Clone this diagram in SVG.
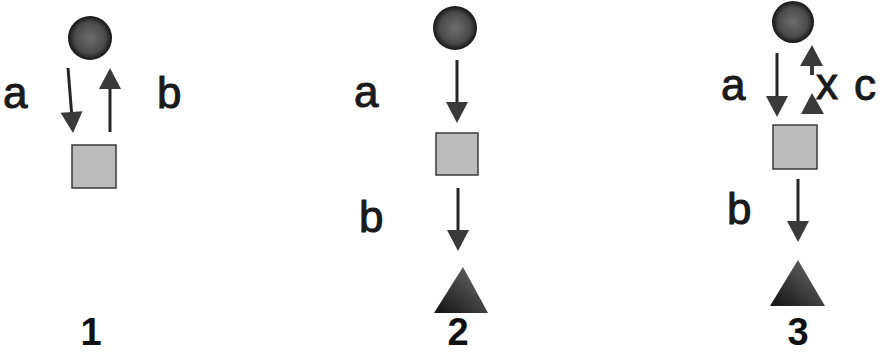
<svg xmlns="http://www.w3.org/2000/svg" width="886" height="354" viewBox="0 0 886 354">
<style>
.lbl{font-family:"Liberation Sans","DejaVu Sans",sans-serif;font-size:44px;fill:#1a1a1a;stroke:#1a1a1a;stroke-width:1}
.num{font-family:"Liberation Sans","DejaVu Sans",sans-serif;font-size:38px;font-weight:bold;fill:#111;text-anchor:middle}
.sq{fill:#bcbcbc;stroke:#3a3a3a;stroke-width:1.5}
.ci{fill:url(#gc)}
.tr{fill:url(#gt)}
.ln{stroke:#262626;stroke-width:3;fill:none}
.hd{fill:#3a3a3a}
</style>
<defs>
<radialGradient id="gc" cx="0.5" cy="0.5" r="0.5">
<stop offset="0" stop-color="#6e6e6e"/>
<stop offset="0.7" stop-color="#4a4a4a"/>
<stop offset="1" stop-color="#151515"/>
</radialGradient>
<linearGradient id="gt" x1="0" y1="1" x2="1" y2="0">
<stop offset="0" stop-color="#111"/>
<stop offset="0.6" stop-color="#4a4a4a"/>
<stop offset="1" stop-color="#6a6a6a"/>
</linearGradient>
<path id="down" class="hd" d="M-11,-21 L11,-21 L0,0 z"/>
<path id="up" class="hd" d="M-11,21 L11,21 L0,0 z"/>
</defs>

<g id="panel1">
<g id="p1-circle"><circle class="ci" cx="90" cy="38" r="22"/></g>
<g id="p1-square"><rect class="sq" x="72" y="145" width="44" height="43"/></g>
<text class="lbl" x="3" y="108">a</text>
<text class="lbl" x="157" y="108">b</text>
<text class="num" x="91" y="345">1</text>
</g>

<g id="panel2">
<g id="p2-circle"><circle class="ci" cx="455" cy="28" r="22"/></g>
<g id="p2-square"><rect class="sq" x="436" y="133" width="42" height="42"/></g>
<g id="p2-triangle"><polygon class="tr" points="463,267 488,313 434,313"/></g>
<text class="lbl" x="354" y="107">a</text>
<text class="lbl" x="359" y="232">b</text>
<text class="num" x="458" y="345">2</text>
</g>

<g id="panel3">
<g id="p3-circle"><circle class="ci" cx="793" cy="22" r="21"/></g>
<g id="p3-square"><rect class="sq" x="773" y="125" width="44" height="44"/></g>
<g id="p3-triangle"><polygon class="tr" points="798,260 825,306 770,306"/></g>
<text class="lbl" x="721" y="100">a</text>
<text class="lbl" x="727" y="224">b</text>
<text class="lbl" x="816" y="99">x</text>
<text class="lbl" x="854" y="100">c</text>
<text class="num" x="798" y="345">3</text>
</g>

<g id="connectors">
<line class="ln" x1="68" y1="68" x2="72" y2="118"/>
<use href="#down" transform="translate(73,133) rotate(-4)"/>
<line class="ln" x1="110" y1="132" x2="110" y2="84"/>
<use href="#up" transform="translate(110,68)"/>
<line class="ln" x1="457" y1="60" x2="457" y2="108"/>
<use href="#down" transform="translate(457,123)"/>
<line class="ln" x1="458" y1="188" x2="458" y2="236"/>
<use href="#down" transform="translate(458,251)"/>
<line class="ln" x1="777" y1="53" x2="777" y2="102"/>
<use href="#down" transform="translate(777,117)"/>
<line class="ln" x1="798" y1="179" x2="798" y2="227"/>
<use href="#down" transform="translate(798,242)"/>
<path class="hd" d="M812,45 L823,66 L814,66 L814,75 L810,75 L810,66 L800,66 z"/>
<path class="hd" d="M812,93 L824,114 L801,114 z"/>
</g>
</svg>
